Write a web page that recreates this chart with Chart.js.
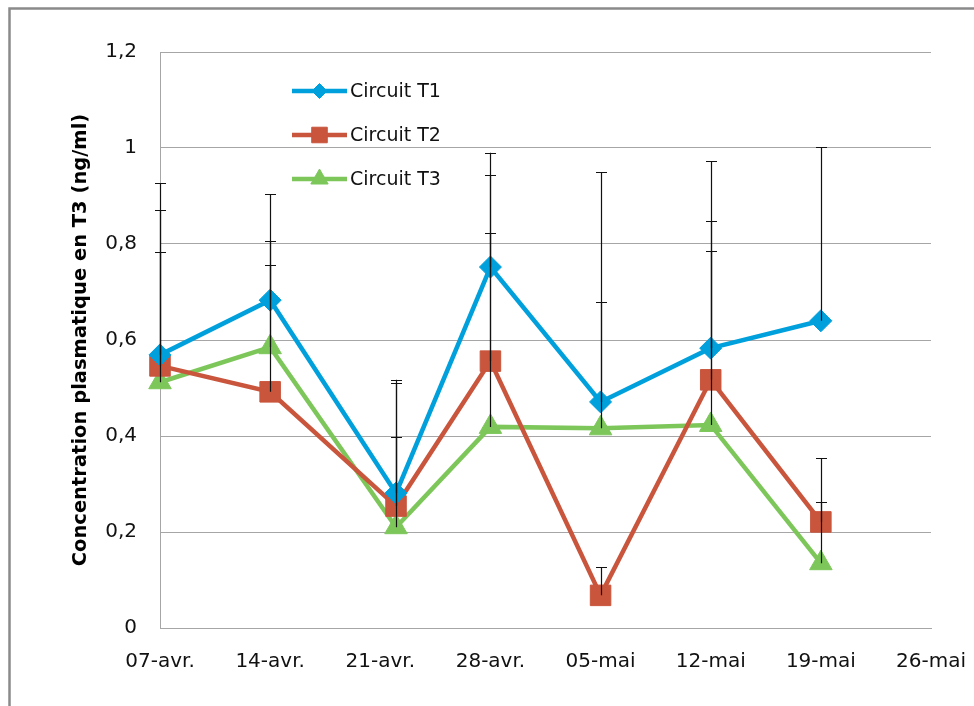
<!DOCTYPE html>
<html lang="fr">
<head>
<meta charset="utf-8">
<title>Concentration plasmatique en T3</title>
<script src="https://cdn.jsdelivr.net/npm/chart.js@4.4.1/dist/chart.umd.min.js"></script>
<style>
  html, body { margin: 0; padding: 0; background: #fff; }
  #wrap { width: 974px; height: 706px; }
</style>
</head>
<body>
<div id="wrap"><canvas id="graphT3" width="974" height="706"></canvas></div>
<script>
// jours de prélèvement, comptés depuis le 07-avr.
var jours = [0, 7, 15, 21, 28, 35, 42];
// graduations hebdomadaires de l'axe des dates
var joursGraduation = [0, 7, 14, 21, 28, 35, 42, 49];
var etiquettesDates = ['07-avr.', '14-avr.', '21-avr.', '28-avr.', '05-mai', '12-mai', '19-mai', '26-mai'];
var graduationsY = [0, 0.2, 0.4, 0.6, 0.8, 1, 1.2];

// moyennes (ng/ml)
var circuitT1 = [0.569, 0.683, 0.281, 0.752, 0.471, 0.583, 0.640];
var circuitT2 = [0.546, 0.492, 0.254, 0.556, 0.068, 0.517, 0.221];
var circuitT3 = [0.512, 0.585, 0.210, 0.419, 0.416, 0.423, 0.135];

// écarts-types (barres d'erreur vers le haut)
var ecartT1 = [0.358, 0.221, 0.236, 0.238, 0.479, 0.390, 0.362];
var ecartT2 = [0.325, 0.264, 0.256, 0.388, 0.059, 0.331, 0.133];
var ecartT3 = [0.271, 0.221, 0.188, 0.404, 0.263, 0.362, 0.127];

var POLICE = "'DejaVu Sans', sans-serif";
var GRIS = '#a6a6a6';

function points(valeurs) {
    return valeurs.map(function (v, i) { return { x: jours[i], y: v }; });
}

function serie(nom, valeurs, ecarts, couleur, forme, rayon, rayonLegende) {
    return {
        label: nom,
        data: points(valeurs),
        ecarts: ecarts,
        borderColor: couleur,
        backgroundColor: couleur,
        borderWidth: 4.5,
        pointStyle: forme,
        pointRadius: rayon,
        pointBorderWidth: 1,
        rayonLegende: rayonLegende,
        tension: 0,
        clip: false
    };
}

// fond blanc + cadre gris du graphique
var cadre = {
    id: 'cadre',
    beforeDraw: function (chart) {
        var ctx = chart.ctx;
        ctx.save();
        ctx.fillStyle = '#ffffff';
        ctx.fillRect(0, 0, chart.width, chart.height);
        ctx.strokeStyle = '#8a8a8a';
        ctx.lineWidth = 2.5;
        ctx.strokeRect(9.5, 8.5, chart.width + 20, chart.height + 20);
        ctx.restore();
    }
};

// barres d'erreur (écart-type positif)
var barresErreur = {
    id: 'barresErreur',
    afterDatasetsDraw: function (chart) {
        var ctx = chart.ctx;
        var echY = chart.scales.y;
        ctx.save();
        ctx.strokeStyle = '#111111';
        ctx.lineWidth = 1.2;
        chart.data.datasets.forEach(function (ds, d) {
            var meta = chart.getDatasetMeta(d);
            meta.data.forEach(function (pt, i) {
                var haut = echY.getPixelForValue(ds.data[i].y + ds.ecarts[i]);
                var x = Math.round(pt.x) + 0.5;
                ctx.beginPath();
                ctx.moveTo(x, pt.y);
                ctx.lineTo(x, haut);
                ctx.moveTo(x - 5.5, Math.round(haut) + 0.5);
                ctx.lineTo(x + 5.5, Math.round(haut) + 0.5);
                ctx.stroke();
            });
        });
        ctx.restore();
    }
};

// légende dans la zone de tracé
var legendeInterne = {
    id: 'legendeInterne',
    afterDraw: function (chart) {
        var ctx = chart.ctx;
        var lignes = [91, 135, 179];
        ctx.save();
        chart.data.datasets.forEach(function (ds, i) {
            var y = lignes[i];
            ctx.strokeStyle = ds.borderColor;
            ctx.lineWidth = ds.borderWidth;
            ctx.beginPath();
            ctx.moveTo(292, y);
            ctx.lineTo(347, y);
            ctx.stroke();
            ctx.fillStyle = ds.backgroundColor;
            ctx.lineWidth = 1;
            Chart.helpers.drawPoint(ctx, {
                pointStyle: ds.pointStyle,
                radius: ds.rayonLegende,
                borderWidth: 1,
                rotation: 0
            }, 319.5, y);
            ctx.fillStyle = '#111111';
            ctx.font = '19px ' + POLICE;
            ctx.textBaseline = 'middle';
            ctx.textAlign = 'left';
            ctx.fillText(ds.label, 350, y + 1);
        });
        ctx.restore();
    }
};

var ctx = document.getElementById('graphT3').getContext('2d');
var graph = new Chart(ctx, {
    type: 'line',
    data: {
        datasets: [
            serie('Circuit T1', circuitT1, ecartT1, '#00a0dc', 'rectRot', 11, 7.5),
            serie('Circuit T2', circuitT2, ecartT2, '#c9553c', 'rect', 14.5, 11),
            serie('Circuit T3', circuitT3, ecartT3, '#7dc75a', 'triangle', 13, 10)
        ]
    },
    options: {
        responsive: false,
        animation: false,
        events: [],
        devicePixelRatio: 1,
        layout: { padding: { left: 0, top: 52, right: 43, bottom: 0 } },
        plugins: {
            legend: { display: false },
            tooltip: { enabled: false }
        },
        scales: {
            x: {
                type: 'linear',
                min: joursGraduation[0],
                max: joursGraduation[joursGraduation.length - 1],
                afterBuildTicks: function (axe) {
                    axe.ticks = joursGraduation.map(function (j) { return { value: j }; });
                },
                afterFit: function (axe) {
                    axe.height = 78;
                    axe.paddingLeft = 0;
                    axe.paddingRight = 0;
                },
                grid: { display: false, drawTicks: false },
                border: { display: true, color: GRIS, width: 1 },
                ticks: {
                    autoSkip: false,
                    maxRotation: 0,
                    padding: 22,
                    color: '#111111',
                    font: { family: POLICE, size: 20 },
                    callback: function (v, i) { return etiquettesDates[i]; }
                }
            },
            y: {
                min: 0,
                max: 1.2,
                afterBuildTicks: function (axe) {
                    axe.ticks = graduationsY.map(function (v) { return { value: v }; });
                },
                afterFit: function (axe) { axe.width = 160; },
                grid: { color: GRIS, lineWidth: 1, drawTicks: false },
                border: { display: true, color: GRIS, width: 1 },
                ticks: {
                    padding: 23,
                    color: '#111111',
                    font: { family: POLICE, size: 20 },
                    callback: function (v) { return String(Math.round(v * 10) / 10).replace('.', ','); }
                },
                title: {
                    display: true,
                    text: 'Concentration plasmatique en T3 (ng/ml)',
                    color: '#000000',
                    font: { family: POLICE, size: 19.5, weight: 'bold' },
                    padding: { top: 69, bottom: 0 }
                }
            }
        }
    },
    plugins: [cadre, barresErreur, legendeInterne]
});
</script>
</body>
</html>
